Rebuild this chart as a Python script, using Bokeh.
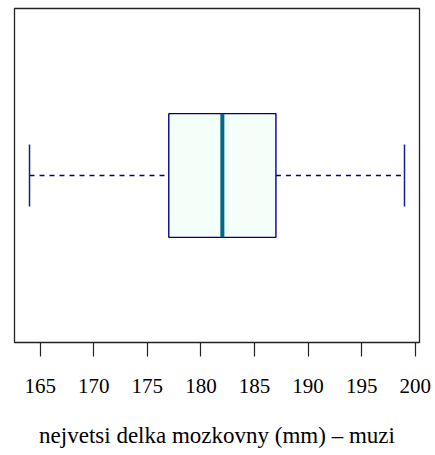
from bokeh.plotting import figure
from bokeh.models import Range1d, FixedTicker, ColumnDataSource
from bokeh.embed import file_html
from bokeh.resources import INLINE

# five-number summary
lower_whisker = [164]
q1 = [177]
median = [182]
q3 = [187]
upper_whisker = [199]
position = [1.0]
tick_values = [165, 170, 175, 180, 185, 190, 195, 200]
x_label = "nejvetsi delka mozkovny (mm) – muzi"

box_half = 0.2
cap_half = 0.1

src = ColumnDataSource(dict(
    lo=lower_whisker, q1=q1, med=median, q3=q3, hi=upper_whisker,
    y=position,
    ytop=[v + box_half for v in position],
    ybot=[v - box_half for v in position],
    ctop=[v + cap_half for v in position],
    cbot=[v - cap_half for v in position],
))

SERIF = "Liberation Serif"

p = figure(width=435, height=455, output_backend="svg", toolbar_location=None,
           x_range=Range1d(162.6, 200.4), y_range=Range1d(0.46, 1.54),
           min_border_left=14, min_border_right=16, min_border_top=8, min_border_bottom=113,
           background_fill_color="white", border_fill_color="white")
p.outline_line_color = "#222222"
p.outline_line_width = 1.3
p.grid.visible = False
p.yaxis.visible = False

ax = p.xaxis[0]
ax.ticker = FixedTicker(ticks=tick_values)
ax.axis_line_color = None
ax.major_tick_in = 0
ax.major_tick_out = 14
ax.major_tick_line_color = "#222222"
ax.major_tick_line_width = 1.2
ax.minor_tick_line_color = None
ax.major_label_text_font = SERIF
ax.major_label_text_font_size = "21px"
ax.major_label_text_color = "black"
ax.major_label_standoff = 22
ax.axis_label = x_label
ax.axis_label_text_font = SERIF
ax.axis_label_text_font_size = "23px"
ax.axis_label_text_font_style = "normal"
ax.axis_label_text_color = "black"
ax.axis_label_standoff = 27

navy = "#1a1a99"

# whiskers (dashed)
p.segment(x0="lo", y0="y", x1="q1", y1="y", source=src, line_color="#00008B",
          line_width=1.5, line_dash="5 5")
p.segment(x0="q3", y0="y", x1="hi", y1="y", source=src, line_color="#00008B",
          line_width=1.5, line_dash="5 5")
# caps
p.segment(x0="lo", y0="cbot", x1="lo", y1="ctop", source=src, line_color=navy, line_width=1.5)
p.segment(x0="hi", y0="cbot", x1="hi", y1="ctop", source=src, line_color=navy, line_width=1.5)
# box
p.quad(left="q1", right="q3", bottom="ybot", top="ytop", source=src,
       fill_color="#F5FFFA", line_color="#00008B", line_width=1.4)
# median
p.segment(x0="med", y0="ybot", x1="med", y1="ytop", source=src,
          line_color="#00688B", line_width=4)

open("out.html", "w").write(file_html(p, INLINE))
